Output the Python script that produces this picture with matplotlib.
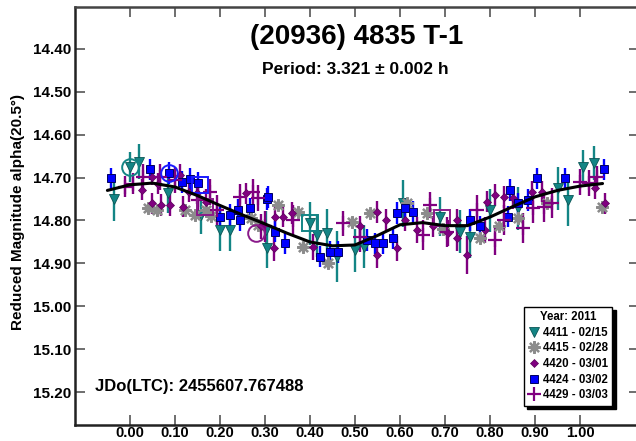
import matplotlib
matplotlib.use("Agg")
import matplotlib.pyplot as plt
from matplotlib.lines import Line2D

plt.rcParams['font.family'] = ['Liberation Sans', 'DejaVu Sans']

# ---------------- data ----------------
title = "(20936) 4835 T-1"
subtitle = "Period: 3.321 \u00b1 0.002 h"
jd_text = "JDo(LTC): 2455607.767488"
ylabel = "Reduced Magnitude alpha(20.5\u00b0)"
legend_title = "Year: 2011"

x_ticks = [0.0, 0.1, 0.2, 0.3, 0.4, 0.5, 0.6, 0.7, 0.8, 0.9, 1.0]
y_ticks = [14.40, 14.50, 14.60, 14.70, 14.80, 14.90, 15.00, 15.10, 15.20]

# 4411 - 02/15 (teal triangles)
s1_label = "4411 - 02/15"
s1_phase = [-0.035, 0.0, 0.02, 0.085, 0.159, 0.2, 0.222, 0.302, 0.304, 0.40, 0.416, 0.438,
            0.459, 0.50, 0.519, 0.607, 0.689, 0.733, 0.756, 0.80, 0.863, 0.952, 0.974, 1.007, 1.03]
s1_mag = [14.751, 14.675, 14.663, 14.737, 14.787, 14.822, 14.822, 14.822, 14.865, 14.807, 14.834, 14.828,
          14.884, 14.869, 14.861, 14.760, 14.791, 14.826, 14.838, 14.776, 14.772, 14.725, 14.752, 14.675, 14.666]
s1_err = [0.05, 0.035, 0.04, 0.045, 0.045, 0.05, 0.05, 0.045, 0.045, 0.05, 0.05, 0.055,
          0.06, 0.05, 0.05, 0.055, 0.045, 0.05, 0.05, 0.05, 0.05, 0.05, 0.06, 0.04, 0.04]

# 4415 - 02/28 (gray asterisks)
s2_label = "4415 - 02/28"
s2_phase = [0.041, 0.06, 0.122, 0.144, 0.17, 0.18, 0.27, 0.285, 0.33, 0.374, 0.385, 0.441,
            0.493, 0.533, 0.615, 0.659, 0.696, 0.778, 0.819, 0.863, 0.926, 1.048]
s2_mag = [14.772, 14.775, 14.776, 14.787, 14.776, 14.790, 14.795, 14.810, 14.764, 14.780, 14.861, 14.900,
          14.803, 14.783, 14.760, 14.783, 14.820, 14.841, 14.814, 14.795, 14.760, 14.769]
s2_err = [0.01] * len(s2_phase)

# 4420 - 03/01 (purple diamonds)
s3_label = "4420 - 03/01"
s3_phase = [0.026, 0.048, 0.05, 0.063, 0.07, 0.09, 0.111, 0.118, 0.132, 0.148, 0.17, 0.259,
            0.292, 0.319, 0.322, 0.341, 0.359, 0.407, 0.511, 0.548, 0.548, 0.57, 0.593, 0.611,
            0.637, 0.674, 0.707, 0.726, 0.726, 0.748, 0.789, 0.793, 0.811, 0.83, 0.852, 0.893,
            0.915, 1.033, 1.056]
s3_mag = [14.728, 14.760, 14.698, 14.714, 14.764, 14.764, 14.694, 14.768, 14.733, 14.737, 14.756, 14.737,
          14.814, 14.865, 14.791, 14.791, 14.783, 14.861, 14.814, 14.780, 14.880, 14.799, 14.865, 14.799,
          14.822, 14.814, 14.830, 14.799, 14.841, 14.880, 14.822, 14.756, 14.741, 14.745, 14.748, 14.733,
          14.733, 14.725, 14.760]
s3_err = [0.025, 0.025, 0.02, 0.025, 0.025, 0.025, 0.025, 0.025, 0.025, 0.025, 0.03, 0.025,
          0.03, 0.03, 0.025, 0.025, 0.025, 0.03, 0.025, 0.025, 0.03, 0.025, 0.03, 0.025,
          0.03, 0.025, 0.03, 0.025, 0.03, 0.045, 0.03, 0.025, 0.025, 0.025, 0.025, 0.025,
          0.025, 0.025, 0.025]

# 4424 - 03/02 (blue squares)
s4_label = "4424 - 03/02"
s4_phase = [-0.041, 0.044, 0.087, 0.115, 0.133, 0.152, 0.2, 0.222, 0.241, 0.244, 0.267, 0.304,
            0.307, 0.322, 0.344, 0.422, 0.444, 0.463, 0.526, 0.544, 0.563, 0.585, 0.593, 0.611,
            0.63, 0.756, 0.778, 0.841, 0.844, 0.863, 0.885, 0.905, 0.967, 1.053]
s4_mag = [14.702, 14.681, 14.690, 14.710, 14.704, 14.713, 14.793, 14.787, 14.776, 14.799, 14.772, 14.750,
          14.745, 14.826, 14.853, 14.884, 14.873, 14.873, 14.845, 14.853, 14.853, 14.841, 14.783, 14.772,
          14.780, 14.799, 14.814, 14.791, 14.729, 14.760, 14.752, 14.702, 14.702, 14.681]
s4_err = [0.025] * len(s4_phase)

# 4429 - 03/03 (purple plus)
s5_label = "4429 - 03/03"
s5_phase = [-0.011, 0.007, 0.03, 0.067, 0.1, 0.152, 0.178, 0.193, 0.244, 0.274, 0.285, 0.3,
            0.363, 0.474, 0.511, 0.652, 0.667, 0.704, 0.77, 0.811, 0.83, 0.874, 0.896, 0.919,
            0.937, 1.0, 1.019, 1.037]
s5_mag = [14.721, 14.714, 14.698, 14.698, 14.706, 14.752, 14.733, 14.776, 14.745, 14.733, 14.748, 14.814,
          14.799, 14.807, 14.838, 14.834, 14.764, 14.826, 14.776, 14.845, 14.799, 14.818, 14.772, 14.768,
          14.760, 14.710, 14.713, 14.698]
s5_err = [0.025, 0.025, 0.03, 0.03, 0.03, 0.03, 0.03, 0.035, 0.03, 0.03, 0.03, 0.035,
          0.035, 0.03, 0.035, 0.035, 0.03, 0.035, 0.035, 0.035, 0.035, 0.035, 0.035, 0.035,
          0.035, 0.03, 0.03, 0.025]

# fitted curve
fit_phase = [-0.05, 0.0, 0.05, 0.10, 0.15, 0.20, 0.25, 0.30, 0.35, 0.40, 0.45, 0.50, 0.55,
             0.60, 0.65, 0.70, 0.75, 0.80, 0.85, 0.90, 0.95, 1.00, 1.05]
fit_mag = [14.730, 14.717, 14.713, 14.722, 14.742, 14.765, 14.787, 14.808, 14.830, 14.850, 14.859,
           14.857, 14.835, 14.810, 14.805, 14.812, 14.812, 14.792, 14.768, 14.745, 14.730, 14.720, 14.714]

# highlighted points (open circles / squares)
circ_phase = [0.0, 0.087, 0.281]
circ_mag = [14.675, 14.690, 14.830]
circ_color = ['#138585', '#1a1aff', '#8a1a8a']
sq_phase = [0.40, 0.693, 0.156, 0.167]
sq_mag = [14.807, 14.795, 14.717, 14.769]
sq_color = ['#138585', '#8a1a8a', '#1a1aff', '#8a1a8a']

# ---------------- styling ----------------
c_teal = '#138585'
c_gray = '#8c8c8c'
c_purple = '#800080'
c_blue = '#0000ff'

W, H = 636, 441
fig = plt.figure(figsize=(W / 100, H / 100), dpi=100)
ax_left, ax_right, ax_bottom, ax_top = 75, 639, 425, 6.5
ax = fig.add_axes([ax_left / W, 1 - ax_bottom / H, (ax_right - ax_left) / W, (ax_bottom - ax_top) / H])

ax.set_xlim(-0.122, 1.131)
ax.set_ylim(15.276, 14.302)

# error bars
for ph, mg, er, col in [(s1_phase, s1_mag, s1_err, c_teal),
                        (s2_phase, s2_mag, s2_err, c_gray),
                        (s3_phase, s3_mag, s3_err, c_purple),
                        (s4_phase, s4_mag, s4_err, c_blue),
                        (s5_phase, s5_mag, s5_err, c_purple)]:
    ax.errorbar(ph, mg, yerr=er, fmt='none', ecolor=col, elinewidth=1.7, capsize=0, zorder=2)

ax.plot(s1_phase, s1_mag, linestyle='none', marker='v', ms=6.5, mfc=c_teal, mec='#0b5555', mew=0.6, zorder=3)
ax.plot(s2_phase, s2_mag, linestyle='none', marker=(8, 2, 0), ms=9, mec=c_gray, mew=1.6, zorder=3)
ax.plot(s3_phase, s3_mag, linestyle='none', marker='D', ms=4.5, mfc=c_purple, mec='#5a005a', mew=0.5, zorder=3)
ax.plot(s4_phase, s4_mag, linestyle='none', marker='s', ms=6, mfc=c_blue, mec='#000060', mew=0.7, zorder=3)
ax.plot(s5_phase, s5_mag, linestyle='none', marker='+', ms=10, mec=c_purple, mew=1.6, zorder=3)

for p, m, c in zip(circ_phase, circ_mag, circ_color):
    ax.plot(p, m, marker='o', ms=12, mfc='none', mec=c, mew=1.4, zorder=4)
for p, m, c in zip(sq_phase, sq_mag, sq_color):
    ax.plot(p, m, marker='s', ms=11, mfc='none', mec=c, mew=1.4, zorder=4)

ax.plot(fit_phase, fit_mag, color='black', lw=2.2, zorder=5, solid_capstyle='round')

# axes style
ax.set_xticks(x_ticks)
ax.set_yticks(y_ticks)
ax.set_xticklabels([f"{v:.2f}" for v in x_ticks])
ax.set_yticklabels([f"{v:.2f}" for v in y_ticks])
ax.tick_params(axis='both', direction='in', length=7, width=1.2, color='#555555',
               top=True, right=True, labelsize=11)
ax.tick_params(axis='x', pad=0.5, labelsize=10.5)
ax.tick_params(axis='y', pad=3)
for lab in ax.get_xticklabels() + ax.get_yticklabels():
    lab.set_fontweight('bold')
for sp in ['left', 'bottom']:
    ax.spines[sp].set_linewidth(1.8)
    ax.spines[sp].set_color('#222222')
ax.spines['top'].set_linewidth(1.8)
ax.spines['top'].set_color('#444444')
ax.spines['right'].set_linewidth(1.8)

cx = ((ax_left + ax_right) / 2) / W
fig.text(cx, 1 - 37 / H, title, ha='center', va='center', fontsize=20, fontweight='bold')
fig.text(cx - 2 / W, 1 - 69 / H, subtitle, ha='center', va='center', fontsize=12.5, fontweight='bold')
fig.text(95 / W, 1 - 386 / H, jd_text, ha='left', va='center', fontsize=12, fontweight='bold')
fig.text(18 / W, 1 - 212 / H, ylabel, ha='center', va='center', rotation=90, fontsize=11, fontweight='bold')

handles = [
    Line2D([], [], linestyle='none', marker='v', ms=6.5, mfc=c_teal, mec='#0b5555', mew=0.6),
    Line2D([], [], linestyle='none', marker=(8, 2, 0), ms=9, mec=c_gray, mew=1.6),
    Line2D([], [], linestyle='none', marker='D', ms=4.5, mfc=c_purple, mec='#5a005a', mew=0.5),
    Line2D([], [], linestyle='none', marker='s', ms=6, mfc=c_blue, mec='#000060', mew=0.7),
    Line2D([], [], linestyle='none', marker='+', ms=10, mec=c_purple, mew=1.6),
]
labels = [s1_label, s2_label, s3_label, s4_label, s5_label]
leg_kw = dict(title=legend_title, loc='upper left',
              bbox_to_anchor=(524 / W, 1 - 307 / H), fancybox=False,
              framealpha=1, edgecolor='black', prop={'weight': 'bold', 'size': 8.3},
              title_fontproperties={'weight': 'bold', 'size': 8.3},
              handlelength=1.0, handletextpad=0.3, labelspacing=0.32,
              borderpad=0.35, borderaxespad=0)
try:
    leg = fig.legend(handles, labels, shadow={'color': 'black', 'alpha': 1.0, 'ox': 2.5, 'oy': -2.5}, **leg_kw)
except Exception:
    leg = fig.legend(handles, labels, shadow=True, **leg_kw)
leg.get_frame().set_linewidth(1.0)

fig.savefig("out.png", dpi=100)
